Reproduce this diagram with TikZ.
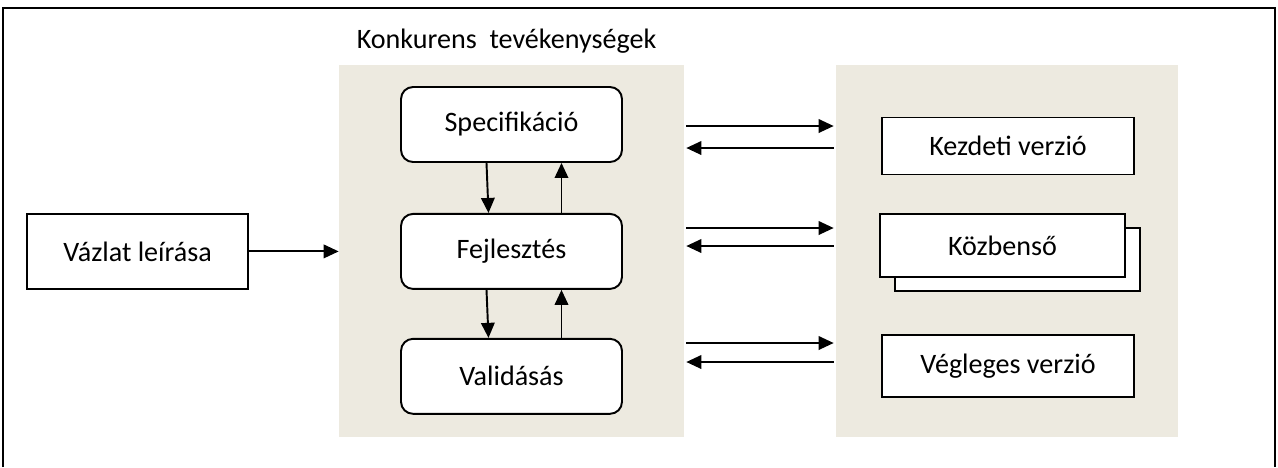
\documentclass[tikz,border=0pt]{standalone}
\usepackage{fontspec}
\setmainfont{Carlito}
\usetikzlibrary{arrows.meta}
\usetikzlibrary{positioning}
\definecolor{panelgray}{RGB}{237,234,224}
\tikzstyle{panel} = [rectangle, fill=panelgray, inner sep=0pt]
\tikzstyle{activity} = [rectangle, rounded corners=0.24cm, minimum width=4.42cm, minimum
height=1.5cm, text centered, draw=black, fill=white, line width=1.1pt]
\tikzstyle{version} = [rectangle, minimum width=5.04cm, minimum height=1.14cm, text centered,
draw=black, fill=white, line width=1.1pt]
\tikzstyle{arrow} = [line width=1.1pt,-{Triangle[length=0.3cm,width=0.27cm]}]

\begin{document}
\begin{tikzpicture} [x=0.02cm, y=-0.02cm, node distance=1cm, font=\fontsize{16}{19}\selectfont]
    \useasboundingbox (0,0) rectangle (1278,467);
    \draw[line width=1.3pt] (3,467) |- (1275,8) -- (1275,467);

    \node (konk) [panel, minimum width=6.9cm, minimum height=7.44cm] at (511.5,251) {};
    \node (verz) [panel, minimum width=6.84cm, minimum height=7.44cm] at (1007,251) {};
    \node (title) [above=0.1cm of konk, xshift=-0.1cm] {Konkurens\ \ tevékenységek};

    \node (spec) [activity] at (511.5,124.5) {Specifikáció};
    \node (fejl) [activity, below=of spec] {Fejlesztés};
    \node (valid) [activity, below=0.96cm of fejl] {Validásás};
    \node (vazlat) [activity, rounded corners=0pt, left=3.02cm of fejl] {Vázlat leírása};

    \node (kezdeti) [version] at (1008,146) {Kezdeti verzió};
    \node (kozbhat) [version, minimum width=4.9cm, minimum height=1.26cm] at (1017.5,259.5) {};
    \node (kozb) [version, minimum width=4.9cm, minimum height=1.26cm] at (1002.5,245.5) {Közbenső};
    \node (vegl) [version, minimum height=1.24cm] at (1008,366) {Végleges verzió};

    \draw[arrow] (vazlat) -- (vazlat -| konk.west);
    \draw[arrow] ([xshift=-0.5cm]spec.south) -- ([xshift=-0.46cm]fejl.north);
    \draw[arrow] ([xshift=1cm]fejl.north) -- ([xshift=1cm]spec.south);
    \draw[arrow] ([xshift=-0.5cm]fejl.south) -- ([xshift=-0.46cm]valid.north);
    \draw[arrow] ([xshift=1cm]valid.north) -- ([xshift=1cm]fejl.south);

    \draw[arrow, shorten <=0.04cm, shorten >=0.04cm] ([yshift=0.4cm]kezdeti.west -| konk.east) -- ([yshift=0.4cm]kezdeti.west -| verz.west);
    \draw[arrow, shorten <=0.04cm, shorten >=0.04cm] ([yshift=-0.04cm]kezdeti.west -| verz.west) -- ([yshift=-0.04cm]kezdeti.west -| konk.east);
    \draw[arrow, shorten <=0.04cm, shorten >=0.04cm] ([yshift=0.35cm]kozb.west -| konk.east) -- ([yshift=0.35cm]kozb.west -| verz.west);
    \draw[arrow, shorten <=0.04cm, shorten >=0.04cm] ([yshift=-0.01cm]kozb.west -| verz.west) -- ([yshift=-0.01cm]kozb.west -| konk.east);
    \draw[arrow, shorten <=0.04cm, shorten >=0.04cm] ([yshift=0.46cm]vegl.west -| konk.east) -- ([yshift=0.46cm]vegl.west -| verz.west);
    \draw[arrow, shorten <=0.04cm, shorten >=0.04cm] ([yshift=0.08cm]vegl.west -| verz.west) -- ([yshift=0.08cm]vegl.west -| konk.east);
\end{tikzpicture}
\end{document}
